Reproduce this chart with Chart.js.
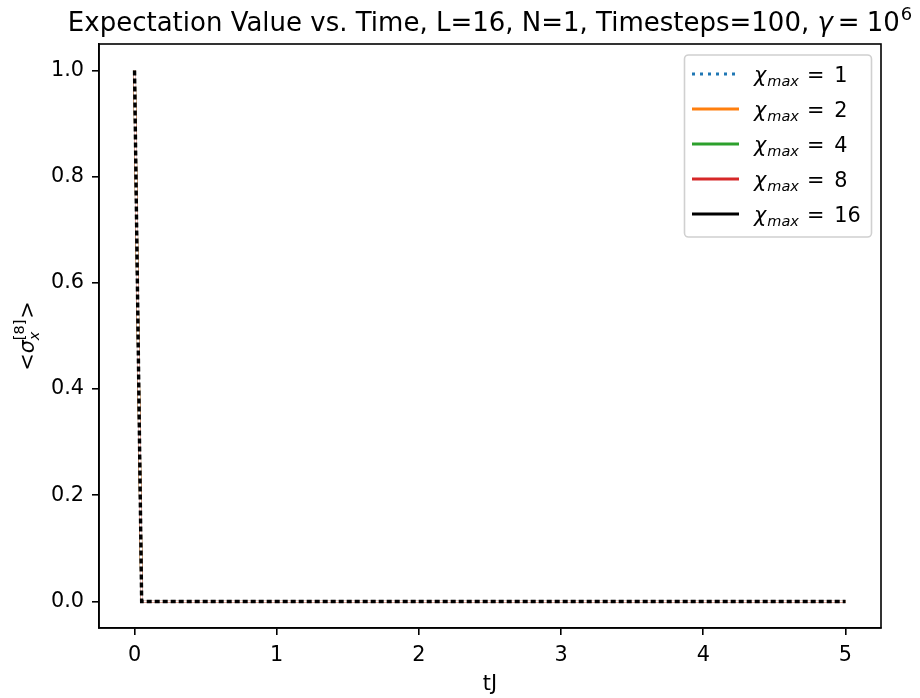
<!DOCTYPE html>
<html>
<head>
<meta charset="utf-8">
<script src="https://cdn.jsdelivr.net/npm/chart.js@4"></script>
<style>
    html, body { margin: 0; padding: 0; background: #fff; }
    #wrap { width: 920px; height: 698px; }
</style>
</head>
<body>
<div id="wrap"><canvas id="expChart" width="920" height="698"></canvas></div>
<script>
// tJ, 101 points (Timesteps=100, dt=0.05)
const times = [0, 0.05, 0.1, 0.15, 0.2, 0.25, 0.3, 0.35, 0.4, 0.45, 0.5, 0.55, 0.6, 0.65, 0.7, 0.75, 0.8, 0.85, 0.9, 0.95,
    1, 1.05, 1.1, 1.15, 1.2, 1.25, 1.3, 1.35, 1.4, 1.45, 1.5, 1.55, 1.6, 1.65, 1.7, 1.75, 1.8, 1.85, 1.9, 1.95,
    2, 2.05, 2.1, 2.15, 2.2, 2.25, 2.3, 2.35, 2.4, 2.45, 2.5, 2.55, 2.6, 2.65, 2.7, 2.75, 2.8, 2.85, 2.9, 2.95,
    3, 3.05, 3.1, 3.15, 3.2, 3.25, 3.3, 3.35, 3.4, 3.45, 3.5, 3.55, 3.6, 3.65, 3.7, 3.75, 3.8, 3.85, 3.9, 3.95,
    4, 4.05, 4.1, 4.15, 4.2, 4.25, 4.3, 4.35, 4.4, 4.45, 4.5, 4.55, 4.6, 4.65, 4.7, 4.75, 4.8, 4.85, 4.9, 4.95, 5];

// <sigma_x^[8]> for each chi_max (all curves coincide)
const sigmaChi1 = [1, 0, 0, 0, 0, 0, 0, 0, 0, 0, 0, 0, 0, 0, 0, 0, 0, 0, 0, 0, 0, 0, 0, 0, 0, 0, 0, 0, 0, 0, 0, 0, 0, 0,
    0, 0, 0, 0, 0, 0, 0, 0, 0, 0, 0, 0, 0, 0, 0, 0, 0, 0, 0, 0, 0, 0, 0, 0, 0, 0, 0, 0, 0, 0, 0, 0, 0, 0,
    0, 0, 0, 0, 0, 0, 0, 0, 0, 0, 0, 0, 0, 0, 0, 0, 0, 0, 0, 0, 0, 0, 0, 0, 0, 0, 0, 0, 0, 0, 0, 0, 0];
const sigmaChi2 = [1, 0, 0, 0, 0, 0, 0, 0, 0, 0, 0, 0, 0, 0, 0, 0, 0, 0, 0, 0, 0, 0, 0, 0, 0, 0, 0, 0, 0, 0, 0, 0, 0, 0,
    0, 0, 0, 0, 0, 0, 0, 0, 0, 0, 0, 0, 0, 0, 0, 0, 0, 0, 0, 0, 0, 0, 0, 0, 0, 0, 0, 0, 0, 0, 0, 0, 0, 0,
    0, 0, 0, 0, 0, 0, 0, 0, 0, 0, 0, 0, 0, 0, 0, 0, 0, 0, 0, 0, 0, 0, 0, 0, 0, 0, 0, 0, 0, 0, 0, 0, 0];
const sigmaChi4 = [1, 0, 0, 0, 0, 0, 0, 0, 0, 0, 0, 0, 0, 0, 0, 0, 0, 0, 0, 0, 0, 0, 0, 0, 0, 0, 0, 0, 0, 0, 0, 0, 0, 0,
    0, 0, 0, 0, 0, 0, 0, 0, 0, 0, 0, 0, 0, 0, 0, 0, 0, 0, 0, 0, 0, 0, 0, 0, 0, 0, 0, 0, 0, 0, 0, 0, 0, 0,
    0, 0, 0, 0, 0, 0, 0, 0, 0, 0, 0, 0, 0, 0, 0, 0, 0, 0, 0, 0, 0, 0, 0, 0, 0, 0, 0, 0, 0, 0, 0, 0, 0];
const sigmaChi8 = [1, 0, 0, 0, 0, 0, 0, 0, 0, 0, 0, 0, 0, 0, 0, 0, 0, 0, 0, 0, 0, 0, 0, 0, 0, 0, 0, 0, 0, 0, 0, 0, 0, 0,
    0, 0, 0, 0, 0, 0, 0, 0, 0, 0, 0, 0, 0, 0, 0, 0, 0, 0, 0, 0, 0, 0, 0, 0, 0, 0, 0, 0, 0, 0, 0, 0, 0, 0,
    0, 0, 0, 0, 0, 0, 0, 0, 0, 0, 0, 0, 0, 0, 0, 0, 0, 0, 0, 0, 0, 0, 0, 0, 0, 0, 0, 0, 0, 0, 0, 0, 0];
const sigmaChi16 = [1, 0, 0, 0, 0, 0, 0, 0, 0, 0, 0, 0, 0, 0, 0, 0, 0, 0, 0, 0, 0, 0, 0, 0, 0, 0, 0, 0, 0, 0, 0, 0, 0, 0,
    0, 0, 0, 0, 0, 0, 0, 0, 0, 0, 0, 0, 0, 0, 0, 0, 0, 0, 0, 0, 0, 0, 0, 0, 0, 0, 0, 0, 0, 0, 0, 0, 0, 0,
    0, 0, 0, 0, 0, 0, 0, 0, 0, 0, 0, 0, 0, 0, 0, 0, 0, 0, 0, 0, 0, 0, 0, 0, 0, 0, 0, 0, 0, 0, 0, 0, 0];

const chiLabels = ['1', '2', '4', '8', '16'];
const xTicks = [0, 1, 2, 3, 4, 5];
const yTicks = [0, 0.2, 0.4, 0.6, 0.8, 1.0];

const FONT = "'DejaVu Sans'";

function toPoints(values) {
    return times.map((t, i) => ({ x: t, y: values[i] }));
}

// legend styles (as in the key)
const legendStyles = [
    { color: '#1f77b4', dash: [3, 5] },
    { color: '#ff7f0e', dash: [] },
    { color: '#2ca02c', dash: [] },
    { color: '#d62728', dash: [] },
    { color: '#000000', dash: [] }
];

const baseLine = { pointRadius: 0, fill: false, tension: 0, borderWidth: 2.6 };

// lower order = drawn on top
const datasets = [
    Object.assign({}, baseLine, { label: 'chi1', order: 6, data: toPoints(sigmaChi1), borderColor: '#1f77b4', borderDash: [3, 5] }),
    Object.assign({}, baseLine, { label: 'chi2', order: 5, data: toPoints(sigmaChi2), borderColor: '#ff7f0e' }),
    Object.assign({}, baseLine, { label: 'chi4', order: 4, data: toPoints(sigmaChi4), borderColor: '#2ca02c' }),
    Object.assign({}, baseLine, { label: 'chi8', order: 3, data: toPoints(sigmaChi8), borderColor: '#d62728' }),
    // white under the dotted black stroke, as it shows in the picture
    Object.assign({}, baseLine, { label: 'mask', order: 2, data: toPoints(sigmaChi16), borderColor: '#ffffff', borderWidth: 2.2 }),
    Object.assign({}, baseLine, { label: 'chi16', order: 1, data: toPoints(sigmaChi16), borderColor: '#000000', borderWidth: 3.4, borderDash: [5, 3] })
];

// title, axis label with sub/superscripts, frame and legend
const decorPlugin = {
    id: 'decor',
    afterDraw(chart) {
        const ctx = chart.ctx;
        const area = chart.chartArea;
        ctx.save();

        // frame top/right
        ctx.strokeStyle = '#000';
        ctx.lineWidth = 1.6;
        ctx.strokeRect(area.left, area.top, area.right - area.left, area.bottom - area.top);

        // title
        const cx = (area.left + area.right) / 2;
        const tBase = 31;
        const main = 'Expectation Value vs. Time, L=16, N=1, Timesteps=100, ';
        ctx.fillStyle = '#000';
        ctx.textBaseline = 'alphabetic';
        ctx.textAlign = 'left';
        const fMain = '26px ' + FONT;
        const fIt = 'oblique 26px ' + FONT;
        const fSup = '18px ' + FONT;
        ctx.font = fMain; const w1 = ctx.measureText(main).width;
        ctx.font = fIt; const w2 = ctx.measureText('γ').width;
        ctx.font = fMain; const wEq = ctx.measureText('=').width; const w4 = ctx.measureText('10').width;
        ctx.font = fSup; const w5 = ctx.measureText('6').width;
        const total = w1 + w2 + 5 + wEq + 7 + w4 + 1 + w5;
        let x = cx - total / 2;
        ctx.font = fMain; ctx.fillText(main, x, tBase); x += w1;
        ctx.font = fIt; ctx.fillText('γ', x, tBase); x += w2 + 5;
        ctx.font = fMain; ctx.fillText('=', x, tBase); x += wEq + 7;
        ctx.fillText('10', x, tBase); x += w4 + 1;
        ctx.font = fSup; ctx.fillText('6', x, tBase - 11);

        const f20 = '20.8px ' + FONT, f20i = 'oblique 20.8px ' + FONT, f14 = '14.5px ' + FONT, f14i = 'oblique 14.5px ' + FONT;

        // x label
        ctx.font = f20;
        ctx.textAlign = 'center';
        ctx.fillText('tJ', cx, 690);

        // y label, rotated
        ctx.save();
        ctx.translate(34, (area.top + area.bottom) / 2);
        ctx.rotate(-Math.PI / 2);
        ctx.textAlign = 'left';
        ctx.font = f20; const a1 = ctx.measureText('<').width;
        ctx.font = f20i; const a2 = ctx.measureText('σ').width;
        ctx.font = f14; const a3 = ctx.measureText('[8]').width;
        ctx.font = f20; const a4 = ctx.measureText('>').width;
        let yx = -(a1 + a2 + a3 + a4 + 1) / 2;
        ctx.font = f20; ctx.fillText('<', yx, 0); yx += a1;
        ctx.font = f20i; ctx.fillText('σ', yx, 0); yx += a2;
        ctx.font = f14; ctx.fillText('[8]', yx, -10);
        ctx.font = f14i; ctx.fillText('x', yx, 5); yx += a3 + 1;
        ctx.font = f20; ctx.fillText('>', yx, 0);
        ctx.restore();

        // legend box
        const lx = 684.5, ly = 55, lw = 187, lh = 182;
        ctx.beginPath();
        ctx.roundRect(lx, ly, lw, lh, 4);
        ctx.fillStyle = 'rgba(255,255,255,0.8)';
        ctx.fill();
        ctx.strokeStyle = '#d0d0d0';
        ctx.lineWidth = 1.6;
        ctx.stroke();
        chiLabels.forEach((lab, i) => {
            const yy = 74 + i * 35;
            const st = legendStyles[i];
            ctx.beginPath();
            ctx.setLineDash(st.dash);
            ctx.strokeStyle = st.color;
            ctx.lineWidth = 3;
            ctx.moveTo(692, yy);
            ctx.lineTo(739, yy);
            ctx.stroke();
            ctx.setLineDash([]);
            ctx.fillStyle = '#000';
            ctx.textAlign = 'left';
            let tx = 754;
            const base = yy + 8;
            ctx.font = f20i; ctx.fillText('χ', tx, base); tx += ctx.measureText('χ').width + 1;
            ctx.font = f14i; ctx.fillText('max', tx, base + 4); tx += ctx.measureText('max').width + 8;
            ctx.font = f20; ctx.fillText('=', tx, base); tx += ctx.measureText('=').width + 10;
            ctx.fillText(lab, tx, base);
        });

        ctx.restore();
    }
};

new Chart(document.getElementById('expChart').getContext('2d'), {
    type: 'line',
    data: { datasets: datasets },
    options: {
        responsive: false,
        animation: false,
        layout: { padding: { left: 0, top: 44, right: 39, bottom: 0 } },
        plugins: {
            legend: { display: false },
            title: { display: false },
            tooltip: { enabled: false }
        },
        scales: {
            x: {
                type: 'linear',
                min: -0.25,
                max: 5.25,
                afterFit(scale) { scale.height = 70; },
                afterBuildTicks(scale) { scale.ticks = xTicks.map(v => ({ value: v })); },
                ticks: {
                    font: { family: FONT, size: 20.8 },
                    color: '#000',
                    padding: 8,
                    maxRotation: 0,
                    callback: v => String(v)
                },
                grid: { drawOnChartArea: false, color: '#000', tickLength: 7, lineWidth: 1.6 },
                border: { color: '#000', width: 1.6 }
            },
            y: {
                min: -0.05,
                max: 1.05,
                afterFit(scale) { scale.width = 99; },
                afterBuildTicks(scale) { scale.ticks = yTicks.map(v => ({ value: v })); },
                ticks: {
                    font: { family: FONT, size: 20.8 },
                    color: '#000',
                    padding: 8,
                    callback: v => v.toFixed(1)
                },
                grid: { drawOnChartArea: false, color: '#000', tickLength: 7, lineWidth: 1.6 },
                border: { color: '#000', width: 1.6 }
            }
        }
    },
    plugins: [decorPlugin]
});
</script>
</body>
</html>
